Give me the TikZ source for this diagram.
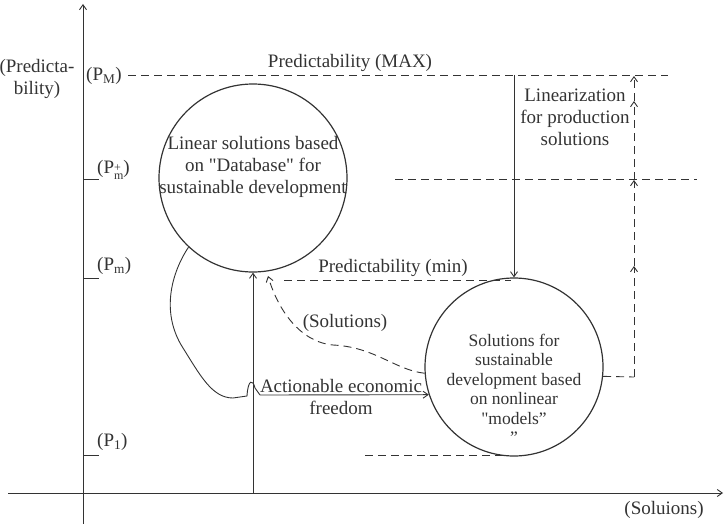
\documentclass[tikz,border=0pt]{standalone}
\usepackage{fontspec}
\setmainfont{Liberation Serif}[Ligatures=TeXOff]
\usetikzlibrary{arrows.meta}
\definecolor{ink}{HTML}{333333}
\tikzset{
  lbl/.style={inner sep=0pt, text=ink, font=\fontsize{19}{22}\selectfont, align=center},
  sml/.style={inner sep=0pt, text=ink, font=\fontsize{17.5}{19.5}\selectfont, align=center},
  ln/.style={draw=ink, line width=0.9pt},
  dsh/.style={ln, dash pattern=on 8pt off 5pt},
  tip/.style={-{Straight Barb[length=5pt,width=7pt]}},
  ring/.style={circle, draw=ink, line width=1.2pt, inner sep=0pt},
}
\begin{document}
\begin{tikzpicture}[x=1pt,y=-1pt]
\useasboundingbox (0,0) rectangle (725,524);
% axes
\coordinate (yb) at (83,524); \coordinate (yt) at (83,4);
\coordinate (xl) at (8,493); \coordinate (xr) at (723,493);
\draw[ln,tip] (yb) -- (yt);
\draw[ln,tip] (xl) -- (xr);
% ticks
\coordinate (t1a) at (83,179); \coordinate (t1b) at (99,179);
\coordinate (t2a) at (83,278); \coordinate (t2b) at (99,278);
\coordinate (t3a) at (83,455); \coordinate (t3b) at (99,455);
\draw[ln] (t1a) -- (t1b); \draw[ln] (t2a) -- (t2b); \draw[ln] (t3a) -- (t3b);
% axis labels
\node[lbl] (ylab) at (37,79) {(Predicta-\\bility)};
\node[lbl] (xlab) at (664,510) {(Soluions)};
\node[lbl,anchor=west] (pM) at (86,76) {(P\textsubscript{M})};
\node[lbl,anchor=west] (pmp) at (97,170) {(P\raisebox{-0.75ex}{\fontsize{12}{10}\selectfont\shortstack[l]{+\\m}})};
\node[lbl,anchor=west] (pm) at (97,266) {(P\textsubscript{m})};
\node[lbl,anchor=west] (p1) at (97,442) {(P\textsubscript{1})};
% circles
\node[ring, minimum size=188pt] (c1) at (253,178) {};
\node[ring, minimum size=178pt] (c2) at (514,367) {};
\node[lbl] (c1t) at (253,167) {Linear solutions based\\on "Database" for\\sustainable development};
\node[sml] (c2t) at (514,389) {Solutions for\\sustainable\\development based\\on nonlinear\\"models”\\”};
% dashed levels
\coordinate (d1a) at (128,75); \coordinate (d1b) at (668,75);
\coordinate (d2a) at (395,179); \coordinate (d2b) at (697,179);
\coordinate (d3a) at (284,280); \coordinate (d3b) at (511,280);
\coordinate (d4a) at (365,455); \coordinate (d4b) at (504,455);
\draw[dsh] (d1a) -- (d1b);
\draw[dsh] (d2a) -- (d2b);
\draw[dsh] (d3a) -- (d3b);
\draw[dsh] (d4a) -- (d4b);
\node[lbl] (maxl) at (350,63) {Predictability (MAX)};
\node[lbl] (minl) at (393,268) {Predictability (min)};
% linearization
\coordinate (va) at (514,75);
\draw[ln,tip] (va) -- (c2.north);
\node[lbl] (lin) at (575,117) {Linearization\\for production\\solutions};
% right dashed return with arrows
\coordinate (r0) at (634,377);
\coordinate (r1) at (634,266);
\coordinate (r2) at (634,180);
\coordinate (r3) at (634,101);
\coordinate (r4) at (634,76);
\draw[dsh] (c2.-6) -- (r0);
\draw[dsh,tip] (r0) -- (r1);
\draw[dsh,tip] (r1) -- (r2);
\draw[dsh,tip] (r2) -- (r3);
\draw[dsh,tip] (r3) -- (r4);
% vertical solid arrow from x axis to c1
\coordinate (vb) at (253,493);
\draw[ln,tip] (vb) -- (c1.south);
% dashed curved "Solutions" arrow
\coordinate (sol) at (268,276);
\draw[dsh,tip] (c2.184) .. controls (395,370) and (375,347) .. (333,345)
   .. controls (300,342) and (278,310) .. (sol);
\node[lbl] (soll) at (345,323) {(Solutions)};
% solid curve with bridge
\coordinate (hb) at (260,395);
\draw[ln] (c1.227) .. controls (172,272) and (160,312) .. (183,348)
   .. controls (200,375) and (212,398) .. (233,398) -- (247,396)
   .. controls (248,379) and (253,379) .. (255,388) -- (hb);
\draw[ln,tip] (hb) -- (c2.198);
\node[lbl] (act) at (341,397) {Actionable economic\\freedom};
\end{tikzpicture}
\end{document}
